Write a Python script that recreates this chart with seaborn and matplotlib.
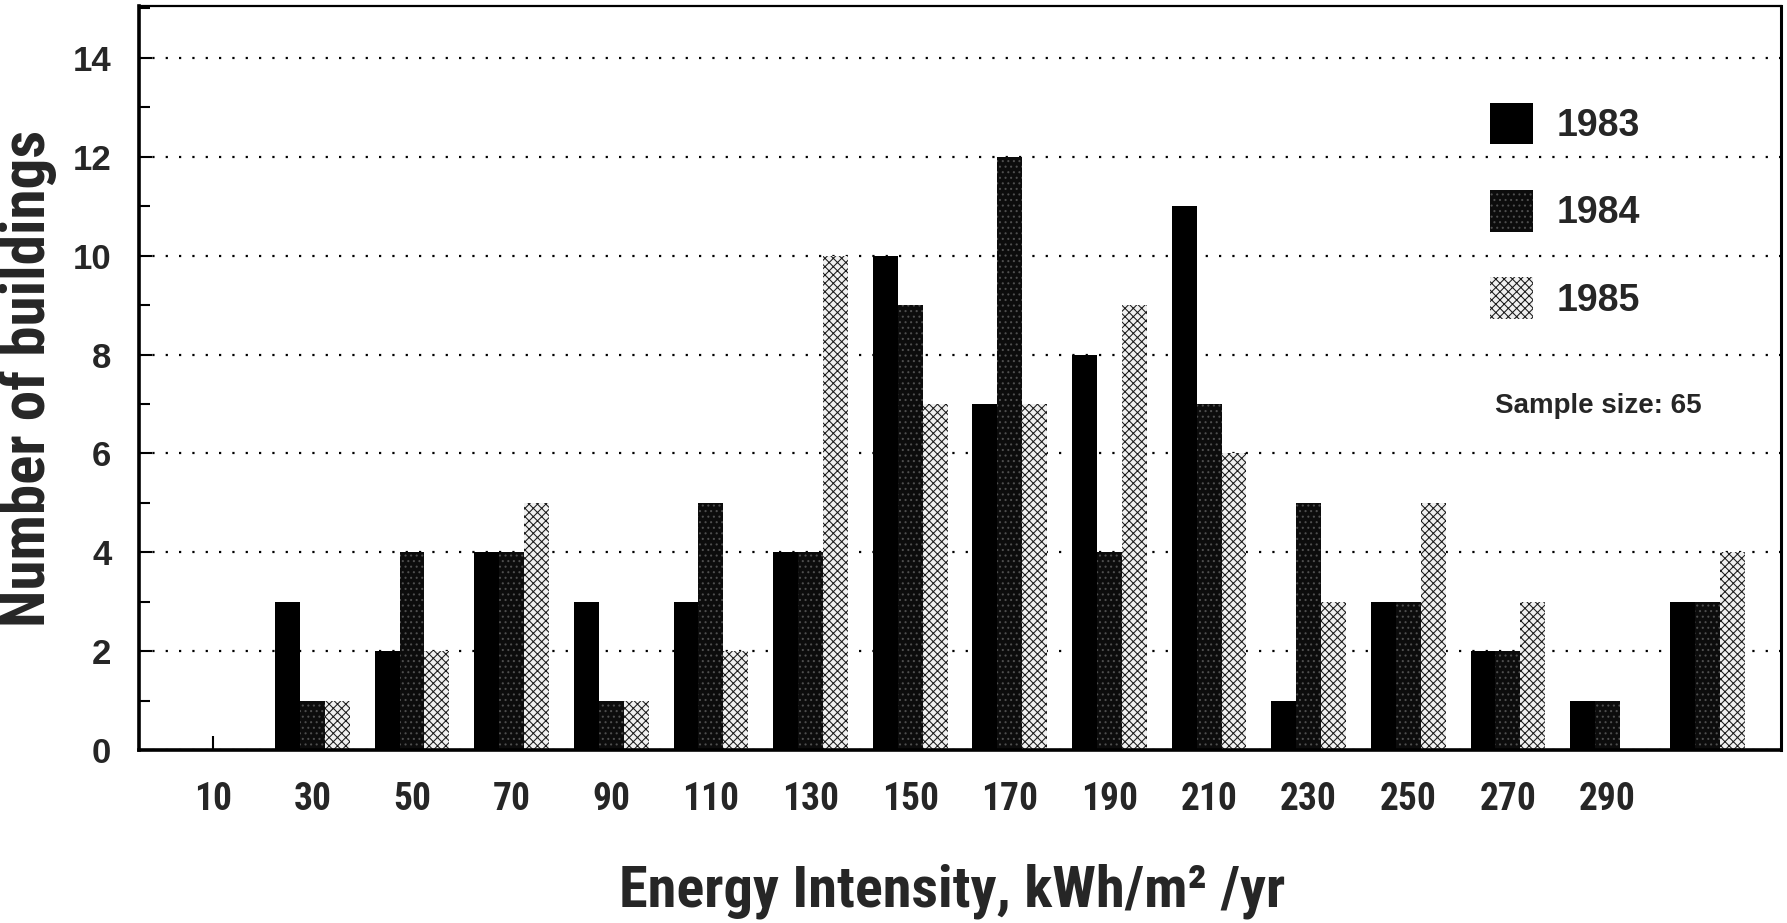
import matplotlib
matplotlib.use("Agg")
import matplotlib.pyplot as plt
from matplotlib import font_manager
from matplotlib.patches import Patch
from matplotlib.ticker import MultipleLocator
import seaborn as sns
import pandas as pd

# Energy-intensity bins (kWh/m²/yr) and building counts per survey year
bins = [10, 30, 50, 70, 90, 110, 130, 150, 170, 190, 210, 230, 250, 270, 290, 310]
tick_labels = ["10", "30", "50", "70", "90", "110", "130", "150", "170", "190",
               "210", "230", "250", "270", "290", ""]
years = ["1983", "1984", "1985"]
counts_1983 = [0, 3, 2, 4, 3, 3, 4, 10, 7, 8, 11, 1, 3, 2, 1, 3]
counts_1984 = [0, 1, 4, 4, 1, 5, 4, 9, 12, 4, 7, 5, 3, 2, 1, 3]
counts_1985 = [0, 1, 2, 5, 1, 2, 10, 7, 7, 9, 6, 3, 5, 3, 0, 4]
sample_note = "Sample size: 65"

df = pd.DataFrame({
    "bin": bins * 3,
    "count": counts_1983 + counts_1984 + counts_1985,
    "year": [y for y in years for _ in bins],
})

sns.set_theme(style="white")

installed = {f.name for f in font_manager.fontManager.ttflist}


def pick(*names):
    for n in names:
        if n in installed:
            return n
    return "DejaVu Sans"


wide_font = pick("Liberation Sans", "Arimo", "DejaVu Sans")
narrow_font = pick("Liberation Sans Narrow", "Roboto Condensed", "Liberation Sans")
plt.rcParams["font.family"] = [wide_font, "DejaVu Sans"]
plt.rcParams["hatch.linewidth"] = 0.75

fig = plt.figure(figsize=(17.87, 9.23), dpi=100)
ax = fig.add_axes([0.0778, 0.1874, 0.9188, 0.8061])

# solid black, dark stipple, light checker stipple
styles = {
    "1983": dict(fc="#000000", hatch=None, hc="#000000"),
    "1984": dict(fc="#0c0c0c", hatch="...", hc="#4e4e4e"),
    "1985": dict(fc="#f0f0f0", hatch="xxxx", hc="#1a1a1a"),
}
palette = {y: styles[y]["fc"] for y in years}

sns.barplot(data=df, x="bin", y="count", hue="year", order=bins,
            hue_order=years, palette=palette, width=0.75, saturation=1,
            legend=False, ax=ax, zorder=2)

for year, container in zip(years, ax.containers):
    st = styles[year]
    for bar in container:
        bar.set_linewidth(0)
        if st["hatch"]:
            bar.set_hatch(st["hatch"])
            bar.set_edgecolor(st["hc"])

ax.set_xlim(-0.74, 15.74)
ax.set_ylim(0, 15.05)
ax.yaxis.set_major_locator(MultipleLocator(2))
ax.yaxis.set_minor_locator(MultipleLocator(1))
ax.set_xticks(range(len(bins)))
ax.set_xticklabels(tick_labels, fontfamily=narrow_font, fontsize=27,
                   fontweight="bold")
ax.set_yticks(range(0, 15, 2))
ax.set_yticklabels([str(v) for v in range(0, 15, 2)], fontsize=25,
                   fontweight="bold")

ax.tick_params(axis="y", which="major", direction="in", length=9, width=1.5,
               color="black", pad=20, left=True)
ax.tick_params(axis="y", which="minor", direction="in", length=8, width=1.5,
               color="black", left=True)
ax.tick_params(axis="x", which="major", direction="in", length=10, width=1.5,
               color="black", pad=22, bottom=True)

ax.set_axisbelow(True)
ax.yaxis.grid(True, which="major", color="black", linewidth=1.6,
              linestyle=(0, (1, 5)))
ax.xaxis.grid(False)

for side, lw in {"left": 2.6, "bottom": 2.6, "right": 2.2, "top": 1.6}.items():
    ax.spines[side].set_visible(True)
    ax.spines[side].set_color("black")
    ax.spines[side].set_linewidth(lw)

ax.set_xlabel("Energy Intensity, kWh/m² /yr", fontfamily=narrow_font,
              fontsize=42, fontweight="bold")
ax.xaxis.set_label_coords(0.495, -0.152)
ax.set_ylabel("Number of buildings", fontfamily=narrow_font, fontsize=44,
              fontweight="bold")
ax.yaxis.set_label_coords(-0.050, 0.5)

handles = [Patch(facecolor=styles[y]["fc"], hatch=styles[y]["hatch"],
                 edgecolor=styles[y]["hc"], linewidth=0, label=y)
           for y in years]
leg = ax.legend(handles=handles, loc="upper left",
                bbox_to_anchor=(0.823, 0.870), frameon=False,
                prop={"family": wide_font, "weight": "bold", "size": 27},
                handlelength=1.14, handleheight=1.33, handletextpad=0.62,
                labelspacing=1.22, borderpad=0, borderaxespad=0)

ax.text(0.826, 0.462, sample_note, transform=ax.transAxes, ha="left",
        va="center", fontsize=20, fontweight="bold")

fig.savefig("out.png", dpi=100)
